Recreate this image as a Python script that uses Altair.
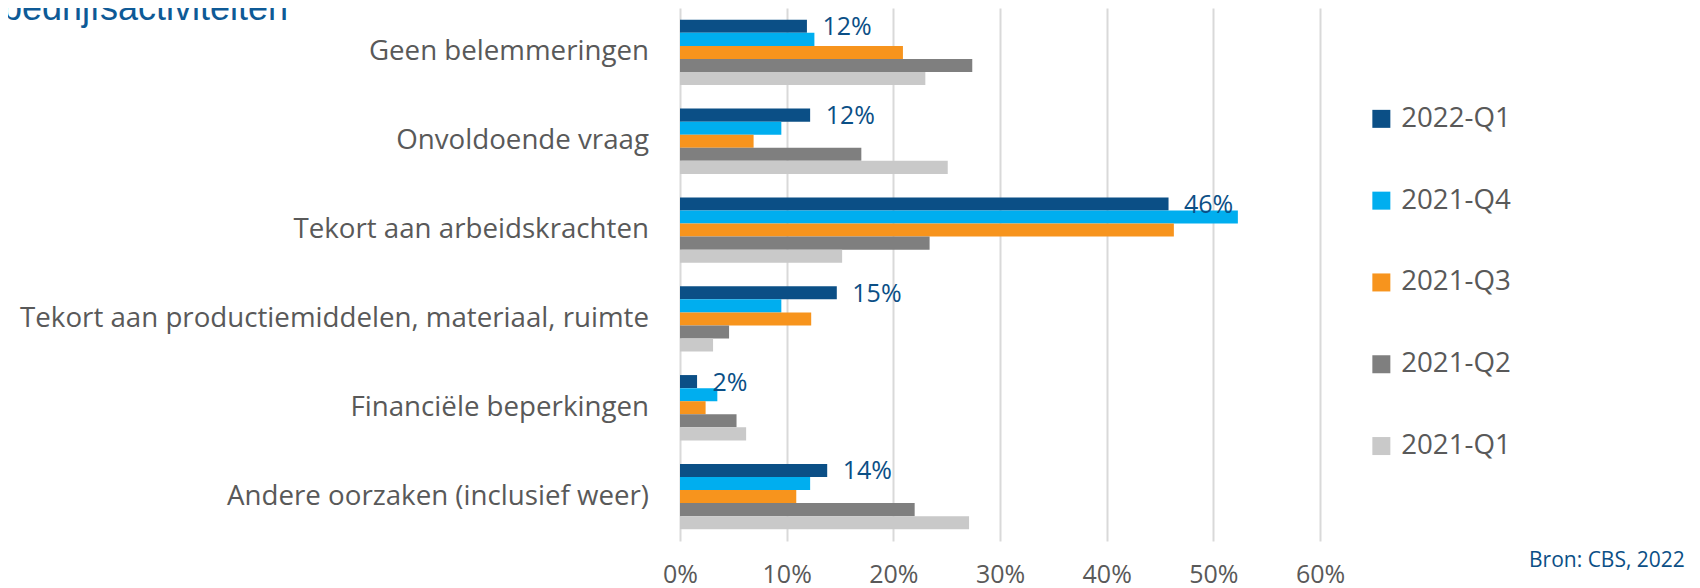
import altair as alt
import pandas as pd

categories = [
    "Geen belemmeringen",
    "Onvoldoende vraag",
    "Tekort aan arbeidskrachten",
    "Tekort aan productiemiddelen, materiaal, ruimte",
    "Financiële beperkingen",
    "Andere oorzaken (inclusief weer)",
]
series = ["2022-Q1", "2021-Q4", "2021-Q3", "2021-Q2", "2021-Q1"]

q2022_1 = [11.9, 12.2, 45.8, 14.7, 1.6, 13.8]
q2021_4 = [12.6, 9.5, 52.3, 9.5, 3.5, 12.2]
q2021_3 = [20.9, 6.9, 46.3, 12.3, 2.4, 10.9]
q2021_2 = [27.4, 17.0, 23.4, 4.6, 5.3, 22.0]
q2021_1 = [23.0, 25.1, 15.2, 3.1, 6.2, 27.1]
labels_2022 = ["12%", "12%", "46%", "15%", "2%", "14%"]

colors = ["#0B4F86", "#00AEEF", "#F7941D", "#7F7F7F", "#C9C9C9"]
x_ticks = [0, 10, 20, 30, 40, 50, 60]
title_text = "bedrijfsactiviteiten"
source_text = "Bron: CBS, 2022"

values_by_series = [q2022_1, q2021_4, q2021_3, q2021_2, q2021_1]
rows = []
for s, vals in zip(series, values_by_series):
    for c, v in zip(categories, vals):
        rows.append({"categorie": c, "reeks": s, "waarde": v})
df = pd.DataFrame(rows)

df_lab = pd.DataFrame({
    "categorie": categories,
    "reeks": [series[0]] * len(categories),
    "waarde": q2022_1,
    "label": labels_2022,
})

FONT = "Open Sans"
GREY = "#595959"
BLUE = "#0B4F86"

y_enc = alt.Y(
    "categorie:N",
    sort=categories,
    scale=alt.Scale(domain=categories, paddingInner=0.264, paddingOuter=0.132),
    axis=alt.Axis(
        title=None, ticks=False, domain=False, labelFont=FONT, labelFontSize=27.7,
        labelColor=GREY, labelPadding=31.5, labelLimit=1000,
    ),
)
yoff_enc = alt.YOffset(
    "reeks:N", sort=series,
    scale=alt.Scale(domain=series, paddingInner=0, paddingOuter=0),
)
x_enc = alt.X(
    "waarde:Q",
    scale=alt.Scale(domain=[0, 60], nice=False),
    axis=alt.Axis(
        title=None, values=x_ticks, labelExpr="datum.value + '%'", grid=True,
        gridColor="#D9D9D9", gridWidth=2, domain=False, ticks=False,
        labelFlush=False, labelFont=FONT, labelFontSize=25, labelColor=GREY,
        labelPadding=21,
    ),
)

bars = alt.Chart(df).mark_bar().encode(
    y=y_enc,
    yOffset=yoff_enc,
    x=x_enc,
    color=alt.Color(
        "reeks:N",
        sort=series,
        scale=alt.Scale(domain=series, range=colors),
        legend=alt.Legend(
            title=None, orient="none", legendX=687.5, legendY=97, direction="vertical",
            symbolType="square", symbolSize=324, symbolStrokeWidth=0,
            labelFont=FONT, labelFontSize=27.7, labelColor=GREY, labelOffset=6,
            rowPadding=52.8, padding=0,
        ),
    ),
)

text = alt.Chart(df_lab).mark_text(
    align="left", baseline="middle", dx=15.5, dy=1, font=FONT, fontSize=25, color=BLUE
).encode(
    y=alt.Y("categorie:N", sort=categories),
    yOffset=alt.YOffset("reeks:N", sort=series),
    x=alt.X("waarde:Q"),
    text="label:N",
)

source = alt.Chart(pd.DataFrame({"t": [source_text]})).mark_text(
    align="left", baseline="middle", font=FONT, fontSize=21, color=BLUE
).encode(x=alt.value(849), y=alt.value(553), text="t:N")

title = alt.Chart(pd.DataFrame({"t": [title_text]})).mark_text(
    align="left", baseline="alphabetic", font="Liberation Sans", fontSize=36, color="#0E5A96"
).encode(x=alt.value(-678), y=alt.value(12), text="t:N")

chart = alt.layer(bars, text, source, title).properties(
    width=640,
    height=533,
    padding={"left": 672, "top": 0, "right": 372, "bottom": 47},
    autosize=alt.AutoSizeParams(type="none"),
).configure_view(stroke=None)

chart.save("out.html", embed_options={"renderer": "svg", "actions": False})
